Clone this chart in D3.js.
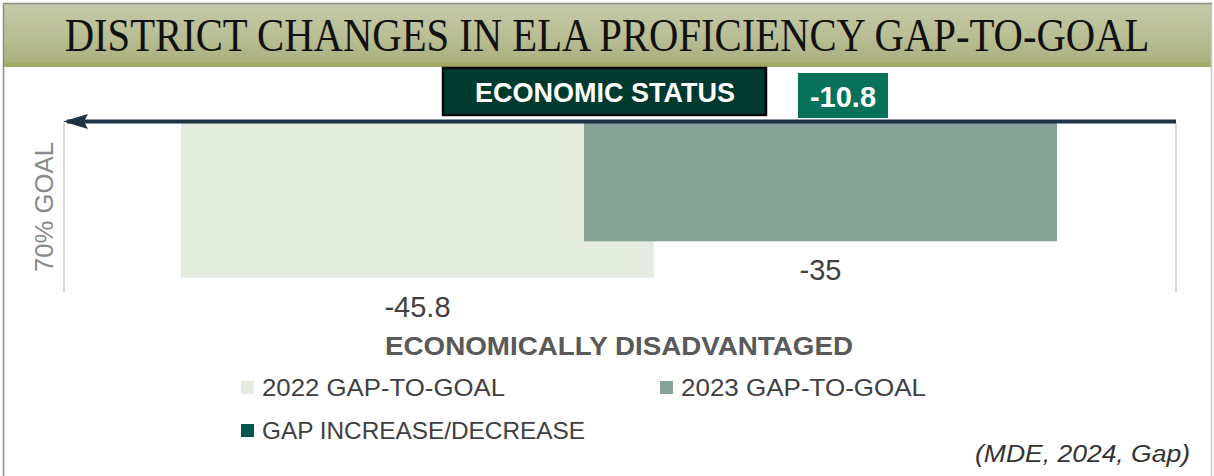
<!DOCTYPE html>
<html>
<head>
<meta charset="utf-8">
<script src="https://cdn.jsdelivr.net/npm/d3@7"></script>
<style>
html,body{margin:0;padding:0;background:#fff;}
svg{display:block;}
</style>
</head>
<body>
<svg id="chart" width="1214" height="476"></svg>
<script>
// ---- data ----
const categories = ["ECONOMICALLY DISADVANTAGED"];
const seriesNames = ["2022 GAP-TO-GOAL", "2023 GAP-TO-GOAL"];
const values2022 = [-45.8];
const values2023 = [-35];
const gapChange = [-10.8];
const legendLabels = ["2022 GAP-TO-GOAL", "2023 GAP-TO-GOAL", "GAP INCREASE/DECREASE"];
const yDomain = [-50, 0];

const titleText = "DISTRICT CHANGES IN ELA PROFICIENCY GAP-TO-GOAL";
const groupTitle = "ECONOMIC STATUS";
const axisTitle = "70% GOAL";
const sourceText = "(MDE, 2024, Gap)";

// ---- styles ----
const colors = ["#e3ecdf", "#86a196", "#00594a"];
const sans = "'Liberation Sans', Arial, sans-serif";
const loc = d3.formatLocale({decimal: ".", thousands: ",", grouping: [3], currency: ["", ""], minus: "-"});
const fmtLabel = loc.format("");
const fmtChange = loc.format(".1f");

const svg = d3.select("#chart");

// banner
const defs = svg.append("defs");
const grad = defs.append("linearGradient").attr("id", "bannerGrad")
  .attr("x1", 0).attr("y1", 0).attr("x2", 0).attr("y2", 1);
grad.append("stop").attr("offset", "0%").attr("stop-color", "#c5c9aa");
grad.append("stop").attr("offset", "55%").attr("stop-color", "#b9be95");
grad.append("stop").attr("offset", "100%").attr("stop-color", "#a9af7b");

svg.append("rect").attr("x", 4).attr("y", 3).attr("width", 1207).attr("height", 61)
  .attr("fill", "url(#bannerGrad)");
svg.append("rect").attr("x", 4).attr("y", 63).attr("width", 1207).attr("height", 4)
  .attr("fill", "#a2a965");
// outer frame
svg.append("line").attr("x1", 3.5).attr("x2", 3.5).attr("y1", 3).attr("y2", 476)
  .attr("stroke", "#8c8c8c").attr("stroke-width", 1.5);
svg.append("line").attr("x1", 1211.5).attr("x2", 1211.5).attr("y1", 3).attr("y2", 476)
  .attr("stroke", "#c8c8c8").attr("stroke-width", 1.5);
svg.append("line").attr("x1", 3).attr("x2", 1212).attr("y1", 3.5).attr("y2", 3.5)
  .attr("stroke", "#8c8c8c").attr("stroke-width", 1.5);

// title: condensed horizontally via scale so its box fits
const title = svg.append("text")
  .attr("text-anchor", "middle")
  .attr("font-family", "'Liberation Serif', 'Times New Roman', serif")
  .attr("font-size", 47)
  .attr("fill", "#111")
  .text(titleText);
const natW = title.node().getComputedTextLength();
title.attr("transform", `translate(607,51) scale(${1085 / natW},1)`);

// ---- scales ----
const plotLeft = 63, plotRight = 1175;
const groupFrac = 876 / 1112;
const x0 = d3.scaleBand().domain(categories).range([plotLeft, plotRight])
  .paddingInner(0).paddingOuter((1 / groupFrac - 1) / 2);
const overlap = 0.148;
const barW = x0.bandwidth() / (2 - overlap);
const x1 = d3.scaleOrdinal().domain(seriesNames).range([0, barW * (1 - overlap)]);
const y = d3.scaleLinear().domain(yDomain).range([292, 123]);

// vertical boundary lines
svg.append("g").selectAll("line").data([plotLeft, plotRight]).join("line")
  .attr("x1", d => d + 1).attr("x2", d => d + 1)
  .attr("y1", y(0)).attr("y2", y(yDomain[0]))
  .attr("stroke", "#d9d9d9").attr("stroke-width", 2);

// bars
const rows = [];
categories.forEach((c, i) => {
  rows.push({cat: c, series: seriesNames[0], v: values2022[i], color: colors[0]});
  rows.push({cat: c, series: seriesNames[1], v: values2023[i], color: colors[1]});
});
svg.append("g").selectAll("rect").data(rows).join("rect")
  .attr("x", d => x0(d.cat) + x1(d.series))
  .attr("width", barW)
  .attr("y", d => y(0))
  .attr("height", d => y(d.v) - y(0))
  .attr("fill", d => d.color);

// data labels
svg.append("g").selectAll("text").data(rows).join("text")
  .attr("x", d => x0(d.cat) + x1(d.series) + barW / 2)
  .attr("y", d => y(d.v) + 39)
  .attr("text-anchor", "middle")
  .attr("font-family", sans).attr("font-size", 29)
  .attr("fill", "#404040")
  .text(d => fmtLabel(d.v));

// axis line with arrow
svg.append("line").attr("x1", plotRight + 1).attr("x2", plotLeft + 4)
  .attr("y1", y(0) - 1.5).attr("y2", y(0) - 1.5)
  .attr("stroke", "#1e3246").attr("stroke-width", 4);
svg.append("path")
  .attr("d", `M${plotLeft},${y(0) - 1.5} L${plotLeft + 25},${y(0) - 9} L${plotLeft + 21},${y(0) - 1.5} L${plotLeft + 25},${y(0) + 6} Z`)
  .attr("fill", "#1e3246");

// axis title (rotated)
svg.append("text")
  .attr("transform", `translate(53,${207}) rotate(-90)`)
  .attr("text-anchor", "middle")
  .attr("font-family", sans).attr("font-size", 25)
  .attr("textLength", 130).attr("lengthAdjust", "spacingAndGlyphs")
  .attr("fill", "#8a8a8a")
  .text(axisTitle);

// category label
svg.append("g").selectAll("text").data(categories).join("text")
  .attr("x", d => x0(d) + x0.bandwidth() / 2)
  .attr("y", 355)
  .attr("text-anchor", "middle")
  .attr("font-family", sans).attr("font-weight", "bold").attr("font-size", 26)
  .attr("textLength", 468).attr("lengthAdjust", "spacingAndGlyphs")
  .attr("fill", "#595959")
  .text(d => d);

// group title box
svg.append("rect").attr("x", 443).attr("y", 68).attr("width", 323).attr("height", 47)
  .attr("fill", "#003a2e").attr("stroke", "#0a0a0a").attr("stroke-width", 2.5);
svg.append("text").attr("x", 605).attr("y", 102)
  .attr("text-anchor", "middle")
  .attr("font-family", sans).attr("font-weight", "bold").attr("font-size", 27)
  .attr("textLength", 260).attr("lengthAdjust", "spacingAndGlyphs")
  .attr("fill", "#ffffff")
  .text(groupTitle);

// change box
svg.append("g").selectAll("g").data(gapChange).join("g").each(function (d) {
  const g = d3.select(this);
  g.append("rect").attr("x", 798).attr("y", 73).attr("width", 90).attr("height", 45)
    .attr("fill", "#077159");
  g.append("text").attr("x", 843).attr("y", 107)
    .attr("text-anchor", "middle")
    .attr("font-family", sans).attr("font-weight", "bold").attr("font-size", 29)
    .attr("fill", "#ffffff")
    .text(fmtChange(d));
});

// legend
const legendPos = [
  {x: 241, y: 381, w: 243},
  {x: 660, y: 381, w: 245},
  {x: 241, y: 424, w: 323}
];
const lg = svg.append("g").selectAll("g").data(legendLabels).join("g");
lg.append("rect")
  .attr("x", (d, i) => legendPos[i].x).attr("y", (d, i) => legendPos[i].y)
  .attr("width", 13).attr("height", 13)
  .attr("fill", (d, i) => colors[i]);
lg.append("text")
  .attr("x", (d, i) => legendPos[i].x + 21)
  .attr("y", (d, i) => legendPos[i].y + 15)
  .attr("font-family", sans).attr("font-size", 24)
  .attr("textLength", (d, i) => legendPos[i].w).attr("lengthAdjust", "spacingAndGlyphs")
  .attr("fill", "#404040")
  .text(d => d);

// source
svg.append("text").attr("x", 1190).attr("y", 462)
  .attr("text-anchor", "end")
  .attr("font-family", sans).attr("font-style", "italic").attr("font-size", 23)
  .attr("textLength", 215).attr("lengthAdjust", "spacingAndGlyphs")
  .attr("fill", "#333333")
  .text(sourceText);
</script>
</body>
</html>
